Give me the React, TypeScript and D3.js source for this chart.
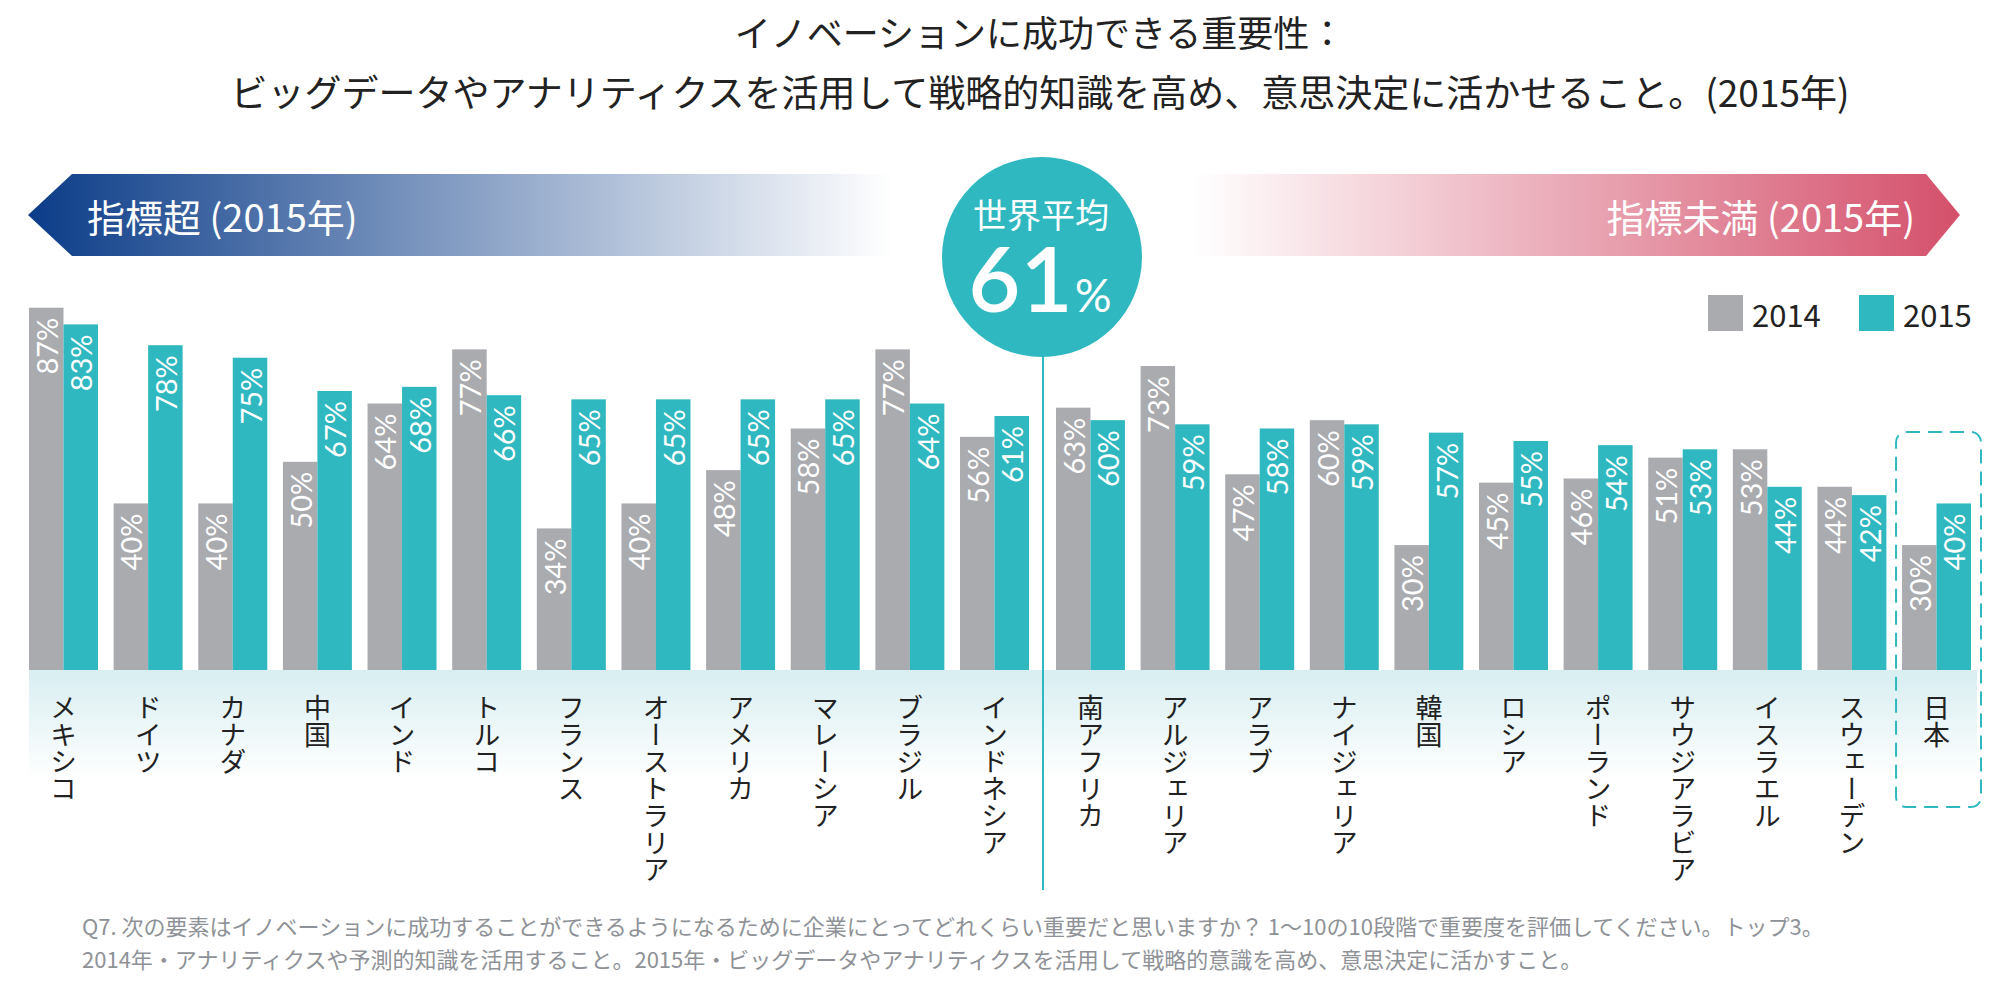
import React from "react";
import * as d3 from "d3";

const leftCats = ["メキシコ", "ドイツ", "カナダ", "中国", "インド", "トルコ", "フランス", "オーストラリア", "アメリカ", "マレーシア", "ブラジル", "インドネシア"];
const left2014 = [87, 40, 40, 50, 64, 77, 34, 40, 48, 58, 77, 56];
const left2015 = [83, 78, 75, 67, 68, 66, 65, 65, 65, 65, 64, 61];
const rightCats = ["南アフリカ", "アルジェリア", "アラブ", "ナイジェリア", "韓国", "ロシア", "ポーランド", "サウジアラビア", "イスラエル", "スウェーデン", "日本"];
const right2014 = [63, 73, 47, 60, 30, 45, 46, 51, 53, 44, 30];
const right2015 = [60, 59, 58, 59, 57, 55, 54, 53, 44, 42, 40];
const years = ["2014", "2015"];
const worldAvg = 61;

const titleLines = [
  "イノベーションに成功できる重要性：",
  "ビッグデータやアナリティクスを活用して戦略的知識を高め、意思決定に活かせること。(2015年)",
];
const leftLabel = "指標超 (2015年)";
const rightLabel = "指標未満 (2015年)";
const avgLabel = "世界平均";
const footLines = [
  "Q7. 次の要素はイノベーションに成功することができるようになるために企業にとってどれくらい重要だと思いますか？ 1～10の10段階で重要度を評価してください。トップ3。",
  "2014年・アナリティクスや予測的知識を活用すること。2015年・ビッグデータやアナリティクスを活用して戦略的意識を高め、意思決定に活かすこと。",
];

const GRAY = "#a9abaf";
const TEAL = "#2fb8c0";
const JP = "'Noto Sans CJK JP', 'Noto Sans', sans-serif";
const NUM = "Lato, 'Open Sans', sans-serif";

export default function App() {
  const W = 2000;
  const H = 998;
  const baseY = 670;
  const y = d3.scaleLinear().domain([0, 100]).range([baseY, baseY - 416.4]);
  const xL = d3.scaleBand<string>().domain(leftCats).range([29, 1029]).paddingInner(0.185).paddingOuter(0);
  const xR = d3.scaleBand<string>().domain(rightCats).range([1056, 1971]).paddingInner(0.185).paddingOuter(0);
  const color = d3.scaleOrdinal<string, string>().domain(years).range([GRAY, TEAL]);
  const centerX = 1043;

  const groups = [
    { cats: leftCats, a: left2014, b: left2015, x: xL },
    { cats: rightCats, a: right2014, b: right2015, x: xR },
  ];

  const japanX = xR("日本")!;
  const bw = xR.bandwidth();

  return (
    <svg width={W} height={H} style={{ position: "absolute", left: 0, top: 0, display: "block", background: "#fff" }}>
      <defs>
        <linearGradient id="gl" gradientUnits="userSpaceOnUse" x1={28} x2={893} y1={0} y2={0}>
          <stop offset="0" stopColor="#0b3c88" stopOpacity={1} />
          <stop offset="1" stopColor="#0b3c88" stopOpacity={0} />
        </linearGradient>
        <linearGradient id="gr" gradientUnits="userSpaceOnUse" x1={1193} x2={1960} y1={0} y2={0}>
          <stop offset="0" stopColor="#d4506b" stopOpacity={0} />
          <stop offset="1" stopColor="#d4506b" stopOpacity={1} />
        </linearGradient>
        <linearGradient id="band" x1={0} x2={0} y1={0} y2={1}>
          <stop offset="0" stopColor="#d8eef1" />
          <stop offset="1" stopColor="#ffffff" />
        </linearGradient>
      </defs>

      {/* Title */}
      {titleLines.map((t, i) => (
        <text key={i} x={1040} y={i === 0 ? 31 : 91} textAnchor="middle" dominantBaseline="central"
          fontFamily={JP} fontSize={i === 0 ? 36 : 37} fill="#222">{t}</text>
      ))}

      {/* Arrows */}
      <path d="M28,215 L72,174 L893,174 L893,256 L72,256 Z" fill="url(#gl)" />
      <text x={87} y={215} dominantBaseline="central" fontFamily={JP} fontSize={38} fill="#fff">{leftLabel}</text>
      <path d="M1193,174 L1926,174 L1960,215 L1926,256 L1193,256 Z" fill="url(#gr)" />
      <text x={1915} y={215} textAnchor="end" dominantBaseline="central" fontFamily={JP} fontSize={38} fill="#fff">{rightLabel}</text>

      {/* Band under bars */}
      <rect x={29} y={baseY} width={1948} height={110} fill="url(#band)" />

      {/* Center line */}
      <line x1={centerX} x2={centerX} y1={340} y2={890} stroke={TEAL} strokeWidth={2} />

      {/* Bars */}
      {groups.map((g, gi) => {
        const sub = d3.scaleBand<string>().domain(years).range([0, g.x.bandwidth()]);
        return g.cats.map((c, i) => {
          const vals = [g.a[i], g.b[i]];
          const gx = g.x(c)!;
          return (
            <g key={gi + "-" + c}>
              {years.map((yr, k) => {
                const bx = gx + sub(yr)!;
                const top = y(vals[k]);
                return (
                  <g key={yr}>
                    <rect x={bx} y={top} width={sub.bandwidth()} height={baseY - top} fill={color(yr)} />
                    <text transform={`translate(${bx + sub.bandwidth() / 2},${top + 10}) rotate(-90)`}
                      textAnchor="end" dominantBaseline="central" fontFamily={NUM} fontWeight={400}
                      fontSize={29} fill="#fff">{vals[k]}%</text>
                  </g>
                );
              })}
              <text x={gx + g.x.bandwidth() / 2} y={694} style={{ writingMode: "vertical-rl" } as any}
                fontFamily={JP} fontSize={27} fill="#222">{c}</text>
            </g>
          );
        });
      })}

      {/* Japan highlight */}
      <rect x={japanX - 6} y={432} width={bw + 16} height={375} rx={10} ry={10}
        fill="none" stroke={TEAL} strokeWidth={2} strokeDasharray="14 8" />

      {/* World average circle */}
      <circle cx={1042} cy={257} r={100} fill={TEAL} />
      <text x={1041} y={213} textAnchor="middle" dominantBaseline="central" fontFamily={JP} fontSize={34} fill="#fff">{avgLabel}</text>
      <text x={1040} y={312} textAnchor="middle" fontFamily={NUM} fill="#fff">
        <tspan fontSize={90} fontWeight={600}>{worldAvg}</tspan>
        <tspan fontSize={46} fontWeight={400} dx={2}>%</tspan>
      </text>

      {/* Legend */}
      {years.map((yr, k) => (
        <g key={yr} transform={`translate(${k === 0 ? 1708 : 1859},295)`}>
          <rect width={35} height={36} fill={color(yr)} />
          <text x={44} y={18} dominantBaseline="central" fontFamily={JP} fontSize={31} fill="#222">{yr}</text>
        </g>
      ))}

      {/* Footnote */}
      {footLines.map((t, i) => (
        <text key={i} x={82} y={i === 0 ? 925 : 958} dominantBaseline="central" fontFamily={JP} fontSize={22} fill="#8e9297">{t}</text>
      ))}
    </svg>
  );
}
